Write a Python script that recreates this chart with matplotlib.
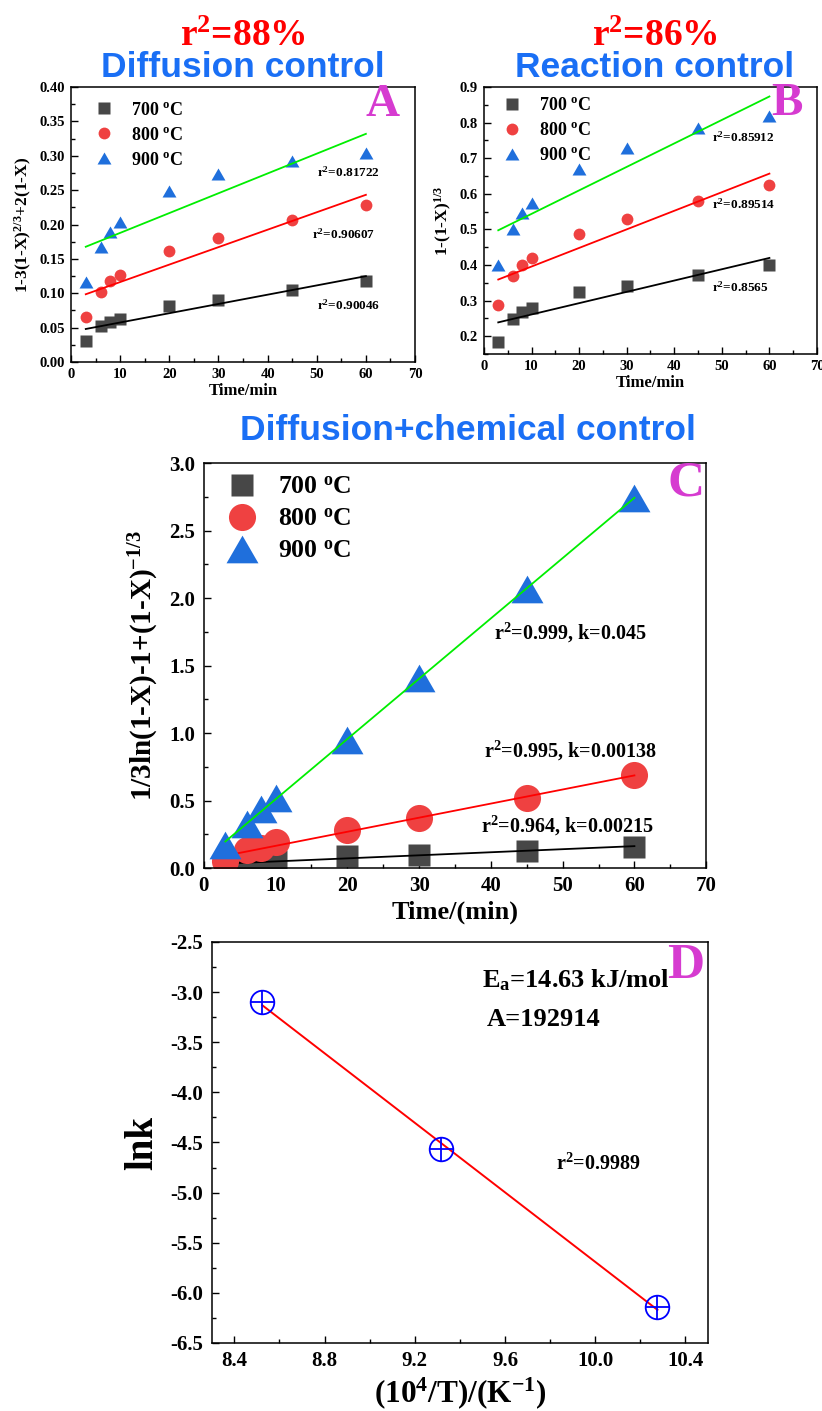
import numpy as np
import matplotlib
matplotlib.use('Agg')
import matplotlib.pyplot as plt
from matplotlib.ticker import MultipleLocator, AutoMinorLocator

plt.rcParams['font.family'] = ['Liberation Serif', 'DejaVu Serif']
plt.rcParams['font.weight'] = 'bold'
plt.rcParams['axes.labelweight'] = 'bold'
plt.rcParams['axes.unicode_minus'] = False
plt.rcParams['mathtext.fontset'] = 'custom'
plt.rcParams['mathtext.rm'] = 'Liberation Serif:bold'
plt.rcParams['mathtext.it'] = 'Liberation Serif:bold'
plt.rcParams['mathtext.bf'] = 'Liberation Serif:bold'
plt.rcParams['mathtext.default'] = 'rm'

# data
time = [3, 6, 8, 10, 20, 30, 45, 60]
temps = ['700', '800', '900']

diff_700 = [0.030, 0.052, 0.058, 0.063, 0.082, 0.090, 0.105, 0.118]
diff_800 = [0.066, 0.102, 0.118, 0.127, 0.161, 0.181, 0.207, 0.228]
diff_900 = [0.117, 0.168, 0.189, 0.204, 0.249, 0.273, 0.293, 0.304]
diff_r2 = ['0.90046', '0.90607', '0.81722']

react_700 = [0.183, 0.247, 0.267, 0.279, 0.323, 0.342, 0.373, 0.399]
react_800 = [0.287, 0.368, 0.399, 0.421, 0.488, 0.530, 0.581, 0.625]
react_900 = [0.400, 0.500, 0.545, 0.575, 0.670, 0.730, 0.785, 0.818]
react_r2 = ['0.8565', '0.89514', '0.85912']

mix_700 = [0.020, 0.040, 0.045, 0.050, 0.086, 0.099, 0.128, 0.156]
mix_800 = [0.050, 0.130, 0.150, 0.190, 0.284, 0.370, 0.519, 0.687]
mix_900 = [0.170, 0.330, 0.440, 0.520, 0.950, 1.410, 2.070, 2.740]
mix_text = ['0.964, k=0.00215', '0.995, k=0.00138', '0.999, k=0.045']

T_C = [900, 800, 700]
lnk = [-3.10, -4.567, -6.143]

# equilateral triangle like the Origin marker
tri = [(-1, -0.866), (1, -0.866), (0, 0.866), (-1, -0.866)]
markers = ['s', 'o', tri]
mcolors = ['#474747', '#ef4141', '#1f6fdc']
lcolors = ['black', 'red', '#00ee00']
magenta = '#d63bd0'
title_blue = '#1a6ff5'

fig = plt.figure(figsize=(8.22, 14.11), dpi=100)


def style_axis(ax, xmaj, ymaj, fs, pad):
    ax.xaxis.set_major_locator(MultipleLocator(xmaj))
    ax.yaxis.set_major_locator(MultipleLocator(ymaj))
    ax.xaxis.set_minor_locator(AutoMinorLocator(2))
    ax.yaxis.set_minor_locator(AutoMinorLocator(2))
    ax.tick_params(which='both', direction='in', top=False, right=False,
                   labelsize=fs, width=1.0, pad=pad)
    ax.tick_params(which='major', length=5)
    ax.tick_params(which='minor', length=3)
    for s in ax.spines.values():
        s.set_linewidth(1.1)


def kinetic_panel(ax, series, ms, afs, texts, text_pos):
    x = np.array(time)
    for i, y in enumerate(series):
        ax.plot(x, y, linestyle='none', marker=markers[i], ms=ms[i],
                color=mcolors[i], mec='none',
                label=temps[i] + r' $^{o}$C')
        p = np.polyfit(x, y, 1)
        xx = np.array([x.min(), x.max()])
        ax.plot(xx, np.polyval(p, xx), color=lcolors[i], lw=1.3)
        ax.text(text_pos[i][0], text_pos[i][1], r'r$^2$=' + texts[i],
                fontsize=afs, va='center', ha='left')
    ax.set_xlim(0, 70)


# panel A
axA = fig.add_axes([0.0864, 0.7434, 0.4185, 0.1949])
kinetic_panel(axA, [diff_700, diff_800, diff_900], [8, 8.5, 10], 9.5,
              diff_r2, [(50, 0.083), (49, 0.186), (50, 0.276)])
axA.set_ylim(0, 0.40)
style_axis(axA, 10, 0.05, 10.5, 4.5)
axA.set_xlabel('Time/min', fontsize=12, labelpad=1)
axA.set_ylabel(r'1-3(1-X)$^{2/3}$+2(1-X)', fontsize=12.5, labelpad=4)
axA.legend(loc='upper left', fontsize=13, frameon=False, handletextpad=0.5,
           borderaxespad=0.4, labelspacing=0.45)
axA.text(0.907, 0.935, 'A', transform=axA.transAxes, color=magenta,
         fontsize=34, ha='center', va='center')

# panel B
axB = fig.add_axes([0.5888, 0.7491, 0.4051, 0.1892])
kinetic_panel(axB, [react_700, react_800, react_900], [8, 8.5, 10], 9.5,
              react_r2, [(48, 0.338), (48, 0.571), (48, 0.760)])
axB.set_ylim(0.15, 0.9)
style_axis(axB, 10, 0.1, 10.5, 4.5)
axB.set_xlabel('Time/min', fontsize=12, labelpad=1)
axB.set_ylabel(r'1-(1-X)$^{1/3}$', fontsize=12.5, labelpad=4)
axB.legend(loc='upper left', fontsize=13, frameon=False, handletextpad=0.5,
           borderaxespad=0.15, labelspacing=0.45)
axB.text(0.91, 0.935, 'B', transform=axB.transAxes, color=magenta,
         fontsize=34, ha='center', va='center')

# panel C
axC = fig.add_axes([0.2479, 0.3848, 0.6112, 0.2870])
kinetic_panel(axC, [mix_700, mix_800, mix_900], [16.5, 19.5, 23], 14.5,
              mix_text, [(38.6, 0.311), (39.0, 0.867), (40.4, 1.74)])
axC.set_ylim(0, 3.0)
style_axis(axC, 10, 0.5, 15, 6)
axC.set_xlabel('Time/(min)', fontsize=19, labelpad=3)
axC.set_ylabel(r'1/3ln(1-X)-1+(1-X)$^{-1/3}$', fontsize=21, labelpad=6)
axC.legend(loc='upper left', fontsize=18.5, frameon=False, handletextpad=0.4,
           borderaxespad=0.1, labelspacing=0.35)
axC.text(0.96, 0.95, 'C', transform=axC.transAxes, color=magenta,
         fontsize=37, ha='center', va='center')

# panel D
axD = fig.add_axes([0.2577, 0.0482, 0.6036, 0.2842])
invT = 1e4 / (np.array(T_C) + 273.15)
pD = np.polyfit(invT, lnk, 1)
axD.plot(invT, np.polyval(pD, invT), color='red', lw=1.4)
axD.plot(invT, lnk, linestyle='none', marker='o', ms=17, mfc='none',
         mec='blue', mew=1.3)
axD.plot(invT, lnk, linestyle='none', marker='+', ms=17, color='blue', mew=1.3)
axD.set_xlim(8.3, 10.5)
axD.set_ylim(-6.5, -2.5)
style_axis(axD, 0.4, 0.5, 15, 6)
axD.set_xlabel(r'(10$^4$/T)/(K$^{-1}$)', fontsize=22.5, labelpad=3)
axD.set_ylabel('lnk', fontsize=28, labelpad=7)
axD.text(9.497, -2.88, r'E$_a$=14.63 kJ/mol', fontsize=19, va='center', ha='left')
axD.text(9.52, -3.27, 'A=192914', fontsize=19, va='center', ha='left')
axD.text(9.825, -4.72, r'r$^2$=0.9989', fontsize=14.5, va='center', ha='left')
axD.text(0.955, 0.94, 'D', transform=axD.transAxes, color=magenta,
         fontsize=37, ha='center', va='center')

# titles
fig.text(243 / 822, 1 - 46 / 1411, r'r$^2$=88%', color='red', fontsize=27,
         ha='center', va='baseline')
fig.text(243 / 822, 1 - 77 / 1411, 'Diffusion control', color=title_blue,
         fontsize=25.5, family='Liberation Sans', weight='bold',
         ha='center', va='baseline')
fig.text(655 / 822, 1 - 46 / 1411, r'r$^2$=86%', color='red', fontsize=27,
         ha='center', va='baseline')
fig.text(655 / 822, 1 - 77 / 1411, 'Reaction control', color=title_blue,
         fontsize=25.5, family='Liberation Sans', weight='bold',
         ha='center', va='baseline')
fig.text(468 / 822, 1 - 440 / 1411, 'Diffusion+chemical control', color=title_blue,
         fontsize=25.5, family='Liberation Sans', weight='bold',
         ha='center', va='baseline')

fig.savefig('out.png', dpi=100)
